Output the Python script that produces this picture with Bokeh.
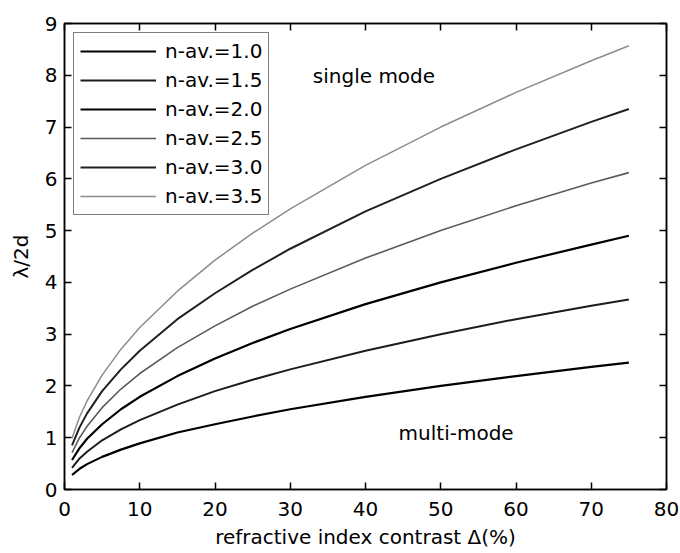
from bokeh.plotting import figure
from bokeh.models import Range1d, LinearAxis, Legend, LegendItem, FixedTicker, Label
from bokeh.embed import file_html
from bokeh.resources import INLINE

delta = [1, 2, 3, 5, 7.5, 10, 15, 20, 25, 30, 40, 50, 60, 70, 75]
n10 = [0.28, 0.40, 0.49, 0.63, 0.77, 0.89, 1.10, 1.26, 1.41, 1.55, 1.79, 2.00, 2.19, 2.37, 2.45]
n15 = [0.42, 0.60, 0.73, 0.95, 1.16, 1.34, 1.64, 1.90, 2.12, 2.32, 2.68, 3.00, 3.29, 3.55, 3.67]
n20 = [0.57, 0.80, 0.98, 1.26, 1.55, 1.79, 2.19, 2.53, 2.83, 3.10, 3.58, 4.00, 4.38, 4.73, 4.90]
n25 = [0.71, 1.00, 1.22, 1.58, 1.94, 2.24, 2.74, 3.16, 3.54, 3.87, 4.47, 5.00, 5.48, 5.92, 6.12]
n30 = [0.85, 1.20, 1.47, 1.90, 2.32, 2.68, 3.29, 3.79, 4.24, 4.65, 5.37, 6.00, 6.57, 7.10, 7.35]
n35 = [0.99, 1.40, 1.71, 2.21, 2.71, 3.13, 3.83, 4.43, 4.95, 5.42, 6.26, 7.00, 7.67, 8.28, 8.57]
labels = ["n-av.=1.0", "n-av.=1.5", "n-av.=2.0", "n-av.=2.5", "n-av.=3.0", "n-av.=3.5"]
x_ticks = [0, 10, 20, 30, 40, 50, 60, 70, 80]
y_ticks = [0, 1, 2, 3, 4, 5, 6, 7, 8, 9]

series = [n10, n15, n20, n25, n30, n35]
colors = ["#000000", "#1c1c1c", "#000000", "#5a5a5a", "#202020", "#8c8c8c"]
widths = [2.2, 2.0, 2.2, 1.6, 2.0, 1.5]

FONT = "DejaVu Sans"

p = figure(width=680, height=553, output_backend="svg", toolbar_location=None,
           x_range=Range1d(0, 80), y_range=Range1d(0, 9),
           min_border_left=64, min_border_right=14, min_border_top=23, min_border_bottom=64)
p.background_fill_color = "white"
p.border_fill_color = "white"
p.grid.visible = False
p.outline_line_color = "black"
p.outline_line_width = 1.5

def style_axis(ax, show_labels=True):
    ax.major_tick_in = 7
    ax.major_tick_out = 0
    ax.minor_tick_in = 0
    ax.minor_tick_out = 0
    ax.axis_line_color = "black"
    ax.axis_line_width = 1.5
    ax.major_tick_line_width = 1.5
    ax.major_label_text_font = FONT
    ax.major_label_text_font_size = "20px"
    ax.major_label_text_color = "black" if show_labels else None
    ax.axis_label_text_font = FONT
    ax.axis_label_text_font_size = "20px"
    ax.axis_label_text_font_style = "normal"
    ax.axis_label_text_color = "black"

p.xaxis.ticker = FixedTicker(ticks=x_ticks)
p.yaxis.ticker = FixedTicker(ticks=y_ticks)
p.xaxis.axis_label = "refractive index contrast \u0394(%)"
p.yaxis.axis_label = "\u03bb/2d"
p.xaxis.major_label_standoff = 12
p.yaxis.major_label_standoff = 7
p.xaxis.axis_label_standoff = 6
p.yaxis.axis_label_standoff = 9
for ax in p.xaxis + p.yaxis:
    style_axis(ax)

top = LinearAxis(ticker=FixedTicker(ticks=x_ticks))
right = LinearAxis(ticker=FixedTicker(ticks=y_ticks))
for ax in (top, right):
    style_axis(ax, show_labels=False)
    ax.major_label_text_font_size = "0px"
    ax.major_label_standoff = 0
p.add_layout(top, "above")
p.add_layout(right, "right")

items = []
for ys, c, w, lab in zip(series, colors, widths, labels):
    r = p.line(delta, ys, line_color=c, line_width=w)
    items.append(LegendItem(label=lab, renderers=[r]))

legend = Legend(items=items, location="top_left")
legend.label_text_font = FONT
legend.label_text_font_size = "20px"
legend.label_text_color = "black"
legend.glyph_width = 76
legend.glyph_height = 20
legend.label_height = 20
legend.label_standoff = 9
legend.spacing = 5
legend.padding = 6
legend.margin = 9
legend.border_line_color = "black"
legend.border_line_width = 1.5
legend.background_fill_alpha = 1
p.add_layout(legend)

p.add_layout(Label(x=33.0, y=7.98, text="single mode", text_font=FONT, text_font_size="20px",
                   text_baseline="middle", text_color="black"))
p.add_layout(Label(x=44.4, y=1.1, text="multi-mode", text_font=FONT, text_font_size="20px",
                   text_baseline="middle", text_color="black"))

open("out.html", "w").write(file_html(p, INLINE))
